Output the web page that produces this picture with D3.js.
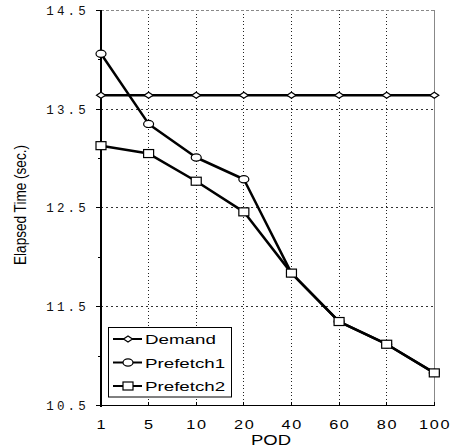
<!DOCTYPE html>
<html><head><meta charset="utf-8">
<script src="https://cdn.jsdelivr.net/npm/d3@7"></script>
<style>body{margin:0;background:#fff}svg{display:block}</style>
</head><body>
<script>
const categories = ["1","5","10","20","40","60","80","100"];
const demand    = [13.64,13.64,13.64,13.64,13.64,13.64,13.64,13.64];
const prefetch1 = [14.06,13.35,13.01,12.79,11.84,11.35,11.12,10.83];
const prefetch2 = [13.13,13.05,12.77,12.46,11.84,11.35,11.12,10.83];
const yTicks = [10.5,11.5,12.5,13.5,14.5];
const yMinor = [11,12,13,14];
const seriesNames = ["Demand","Prefetch1","Prefetch2"];
const xTitle = "POD";
const yTitle = "Elapsed Time (sec.)";

const W=451,H=448;
const svg=d3.select("body").append("svg").attr("width",W).attr("height",H);
const x=d3.scalePoint().domain(categories).range([101,434.3]).padding(0);
const y=d3.scaleLinear().domain([10.5,14.5]).range([405.5,10.3]);
const sans="'Liberation Sans', Arial, sans-serif";
const mono="'Liberation Mono', 'Courier New', monospace";

// grid
const g=svg.append("g");
categories.slice(1,-1).forEach(c=>{
  g.append("line").attr("x1",x(c)).attr("x2",x(c)).attr("y1",y(14.5)).attr("y2",y(10.5))
   .attr("stroke","#222").attr("stroke-width",1).attr("stroke-dasharray","1,2.5").attr("shape-rendering","crispEdges");
});
yTicks.slice(1,-1).forEach(v=>{
  g.append("line").attr("x1",x("1")).attr("x2",x("100")).attr("y1",y(v)).attr("y2",y(v))
   .attr("stroke","#333").attr("stroke-width",1).attr("stroke-dasharray","2,3").attr("shape-rendering","crispEdges");
});
g.append("line").attr("x1",x("1")).attr("x2",x("100")).attr("y1",y(14.5)).attr("y2",y(14.5))
 .attr("stroke","#888").attr("stroke-dasharray","3,2").attr("shape-rendering","crispEdges");
g.append("line").attr("x1",x("100")).attr("x2",x("100")).attr("y1",y(14.5)).attr("y2",y(10.5))
 .attr("stroke","#888").attr("shape-rendering","crispEdges");

// axes
const ax=svg.append("g").attr("stroke","#000").attr("shape-rendering","crispEdges");
ax.append("line").attr("x1",x("1")).attr("x2",x("1")).attr("y1",y(14.5)).attr("y2",y(10.5)+1).attr("stroke-width",1.5);
ax.append("line").attr("x1",x("1")).attr("x2",x("100")).attr("y1",y(10.5)).attr("y2",y(10.5)).attr("stroke-width",1.5);
yTicks.forEach(v=>ax.append("line").attr("x1",x("1")-5).attr("x2",x("1")).attr("y1",y(v)).attr("y2",y(v)));
yMinor.forEach(v=>ax.append("line").attr("x1",x("1")-3).attr("x2",x("1")).attr("y1",y(v)).attr("y2",y(v)));
categories.forEach(c=>ax.append("line").attr("x1",x(c)).attr("x2",x(c)).attr("y1",y(10.5)-4).attr("y2",y(10.5)));

// tick labels
yTicks.forEach(v=>{
  svg.append("text").attr("x",89).attr("y",y(v)+4.5)
    .attr("text-anchor","end").attr("font-family",mono).attr("font-size",12.5).attr("letter-spacing",3.2).attr("fill","#111")
    .text(d3.format(".1f")(v));
});
categories.forEach(c=>{
  svg.append("text").attr("transform",`translate(${x(c)+0.8},429) scale(1.25,1)`)
    .attr("text-anchor","middle").attr("font-family",sans).attr("font-size",13).attr("letter-spacing",1.3).attr("fill","#000").text(c);
});
svg.append("text").attr("x",271).attr("y",445).attr("text-anchor","middle")
  .attr("font-family",sans).attr("font-size",14.8).attr("textLength",40).attr("lengthAdjust","spacingAndGlyphs").text(xTitle);
svg.append("text").attr("transform",`translate(26,205) rotate(-90)`).attr("text-anchor","middle")
  .attr("font-family",sans).attr("font-size",16.3).attr("textLength",120).attr("lengthAdjust","spacingAndGlyphs").text(yTitle);

// markers
function marker(sel,type,cx,cy){
  if(type==="diamond"){
    sel.append("path").attr("d",`M${cx-4.5},${cy}L${cx},${cy-3}L${cx+4.5},${cy}L${cx},${cy+3}Z`)
      .attr("fill","#fff").attr("stroke","#000").attr("stroke-width",1.2);
  } else if(type==="circle"){
    sel.append("ellipse").attr("cx",cx).attr("cy",cy).attr("rx",5).attr("ry",3.6)
      .attr("fill","#fff").attr("stroke","#000").attr("stroke-width",1.2);
  } else {
    sel.append("rect").attr("x",cx-5).attr("y",cy-4).attr("width",10).attr("height",8)
      .attr("fill","#fff").attr("stroke","#000").attr("stroke-width",1.2);
  }
}
const series=[{v:demand,m:"diamond"},{v:prefetch1,m:"circle"},{v:prefetch2,m:"square"}];
const line=d3.line().x((d,i)=>x(categories[i])).y(d=>y(d));
series.forEach(s=>{
  svg.append("path").attr("d",line(s.v)).attr("fill","none").attr("stroke","#000").attr("stroke-width",2.5).attr("stroke-linejoin","round");
});
series.forEach(s=>{
  const gm=svg.append("g");
  s.v.forEach((d,i)=>marker(gm,s.m,x(categories[i]),y(d)));
});

// legend
const lg=svg.append("g");
lg.append("rect").attr("x",108.5).attr("y",327.5).attr("width",123).attr("height",69.5)
  .attr("fill","#fff").attr("stroke","#000").attr("stroke-width",1);
const rowsY=[339,362.5,386];
seriesNames.forEach((n,i)=>{
  lg.append("line").attr("x1",113).attr("x2",142).attr("y1",rowsY[i]).attr("y2",rowsY[i]).attr("stroke","#000").attr("stroke-width",2);
  marker(lg,series[i].m,128,rowsY[i]);
  lg.append("text").attr("transform",`translate(145,${rowsY[i]+5}) scale(1.5,1)`)
    .attr("font-family",sans).attr("font-size",12.5).attr("fill","#000").text(n);
});
</script>
</body></html>
